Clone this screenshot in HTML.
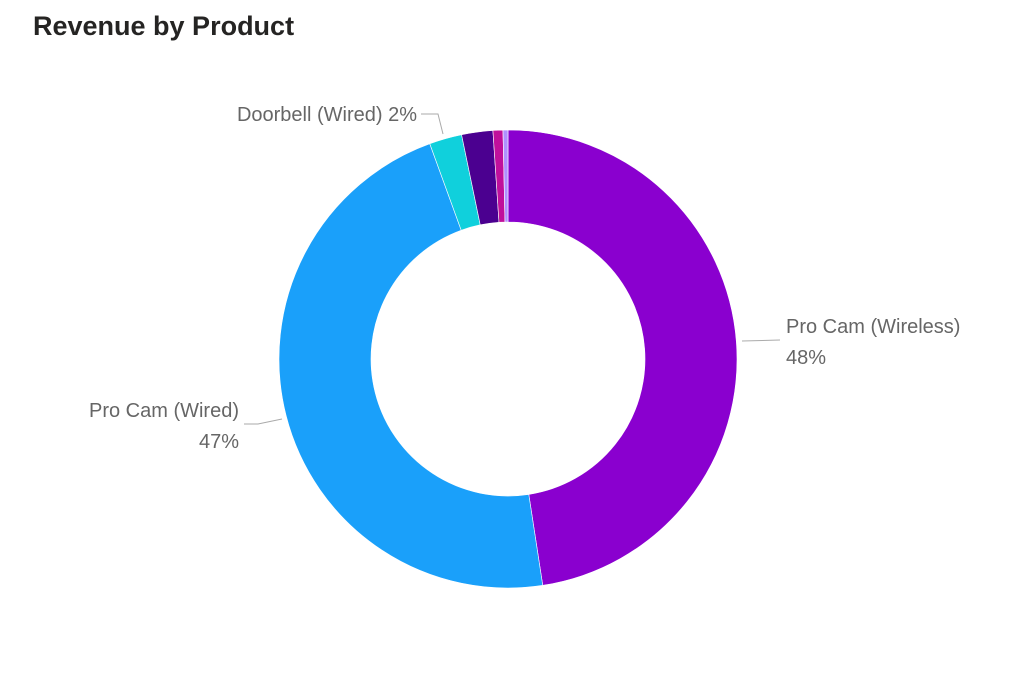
<!DOCTYPE html>
<html><head><meta charset="utf-8"><style>
body{margin:0;width:1020px;height:673px;background:#fff;overflow:hidden;font-family:"Liberation Sans",sans-serif}
#title{position:absolute;left:33px;top:11px;font-size:27px;font-weight:bold;color:#252423;margin:0}
svg{position:absolute;left:0;top:0}
text{font-family:"Liberation Sans",sans-serif;font-size:20px;fill:#666}
</style></head><body>
<h1 id="title">Revenue by Product</h1>
<svg id="chart" width="1020" height="673">
<g id="slices"></g>
<polyline points="742,341 780,340" fill="none" stroke="#aaa"/>
<text x="786" y="333">Pro Cam (Wireless)</text>
<text x="786" y="364">48%</text>
<polyline points="282,419 258,424 244,424" fill="none" stroke="#aaa"/>
<text x="239" y="417" text-anchor="end">Pro Cam (Wired)</text>
<text x="239" y="448" text-anchor="end">47%</text>
<polyline points="421,114 438,114 443,134" fill="none" stroke="#aaa"/>
<text x="417" y="121" text-anchor="end">Doorbell (Wired) 2%</text>
</svg>
<script>
const categories=["Pro Cam (Wireless)","Pro Cam (Wired)","Doorbell (Wired)","Doorbell (Wireless)","Floodlight","Other"];
const values=[47.6,46.9,2.3,2.2,0.7,0.35];
const colors=["#8A00CF","#1AA0FA","#10D0DC","#4B0090","#C0109C","#B090FF"];
const cx=508,cy=359,R=229,r=137;
const total=values.reduce((a,b)=>a+b,0);
const g=document.getElementById('slices');
function pt(a,rad){return [cx+rad*Math.sin(a),cy-rad*Math.cos(a)];}
let a0=0;
values.forEach((v,i)=>{
  const a1=a0+v/total*2*Math.PI;
  const large=(a1-a0)>Math.PI?1:0;
  const p1=pt(a0,R),p2=pt(a1,R),p3=pt(a1,r),p4=pt(a0,r);
  const p=document.createElementNS('http://www.w3.org/2000/svg','path');
  p.setAttribute('d',`M${p1} A${R},${R} 0 ${large} 1 ${p2} L${p3} A${r},${r} 0 ${large} 0 ${p4} Z`);
  p.setAttribute('fill',colors[i]);
  p.setAttribute('stroke','#fff');
  p.setAttribute('stroke-width','0.6');
  
  
  g.appendChild(p);
  a0=a1;
});
</script>
</body></html>
